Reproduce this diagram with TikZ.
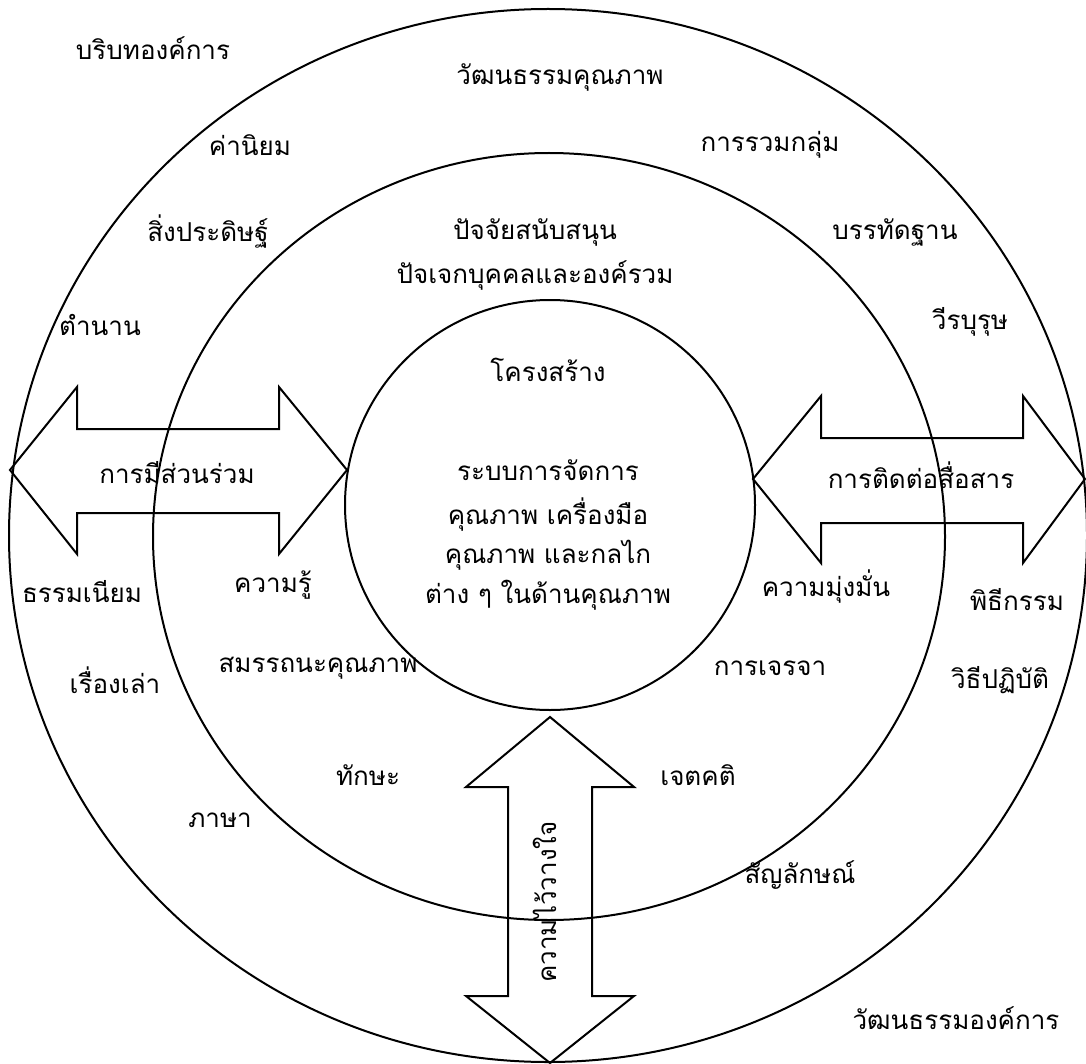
\documentclass[tikz,border=0pt]{standalone}
\usepackage{fontspec}
\newfontfamily\thaifont[Script=Thai]{Loma}
\begin{document}
\begin{tikzpicture}[x=0.5pt,y=-0.5pt,line width=1pt,
  lbl/.style={font=\thaifont\fontsize{13}{16}\selectfont,inner sep=0pt,anchor=center},
  ring/.style={draw=black,line width=1pt},
  dblarrow/.style={draw=black,line width=1pt,line join=miter}]
\useasboundingbox (0,0) rectangle (1086,1064);

% three rings
\draw[ring] (548,535.5) ellipse [x radius=539, y radius=526.5];
\draw[ring] (549,536.5) ellipse [x radius=396, y radius=383.5];
\draw[ring] (550,505) ellipse [x radius=205, y radius=205];

% double arrows (outlines only)
\draw[dblarrow] (10,470) -- (77,387) -- (77,429) -- (279,429) -- (279,387) -- (347,470)
  -- (279,554) -- (279,513) -- (77,513) -- (77,554) -- cycle;
\draw[dblarrow] (753,479) -- (821,396) -- (821,438) -- (1023,438) -- (1023,396) -- (1085,479)
  -- (1023,563) -- (1023,523) -- (821,523) -- (821,563) -- cycle;
\draw[dblarrow] (550,717) -- (634,787) -- (592,787) -- (592,996) -- (634,996) -- (550,1063)
  -- (466,996) -- (508,996) -- (508,787) -- (466,787) -- cycle;

% outer ring labels
\node[lbl] (context) at (153,48) {บริบทองค์การ};
\node[lbl] (qculture) at (560,78) {วัฒนธรรมคุณภาพ};
\node[lbl] (values) at (250,145) {ค่านิยม};
\node[lbl] (grouping) at (770,145) {การรวมกลุ่ม};
\node[lbl] (artifacts) at (208,232) {สิ่งประดิษฐ์};
\node[lbl] (norms) at (895,232) {บรรทัดฐาน};
\node[lbl] (myths) at (100,325) {ตำนาน};
\node[lbl] (heroes) at (970,322) {วีรบุรุษ};
\node[lbl] (customs) at (82,592) {ธรรมเนียม};
\node[lbl] (rituals) at (1017,600) {พิธีกรรม};
\node[lbl] (stories) at (115,680) {เรื่องเล่า};
\node[lbl] (practices) at (1000,680) {วิธีปฏิบัติ};
\node[lbl] (language) at (220,820) {ภาษา};
\node[lbl] (symbols) at (800,875) {สัญลักษณ์};
\node[lbl] (orgculture) at (956,1018) {วัฒนธรรมองค์การ};

% middle ring labels
\node[lbl] (support) at (535,232) {ปัจจัยสนับสนุน};
\node[lbl] (indiv) at (535,275) {ปัจเจกบุคคลและองค์รวม};
\node[lbl] (knowledge) at (273,585) {ความรู้};
\node[lbl] (commit) at (826,587) {ความมุ่งมั่น};
\node[lbl] (competence) at (318,668) {สมรรถนะคุณภาพ};
\node[lbl] (negotiate) at (770,668) {การเจรจา};
\node[lbl] (skills) at (368,775) {ทักษะ};
\node[lbl] (attitude) at (698,775) {เจตคติ};

% inner circle labels
\node[lbl] (structure) at (548,370) {โครงสร้าง};
\node[lbl] (sys1) at (548,470) {ระบบการจัดการ};
\node[lbl] (sys2) at (548,515) {คุณภาพ เครื่องมือ};
\node[lbl] (sys3) at (548,555) {คุณภาพ และกลไก};
\node[lbl] (sys4) at (548,595) {ต่าง ๆ ในด้านคุณภาพ};

% arrow labels
\node[lbl] (particip) at (177,473) {การมีส่วนร่วม};
\node[lbl] (commun) at (921,475) {การติดต่อสื่อสาร};
\node[lbl,rotate=90] (trust) at (545,902) {ความไว้วางใจ};
\end{tikzpicture}
\end{document}
